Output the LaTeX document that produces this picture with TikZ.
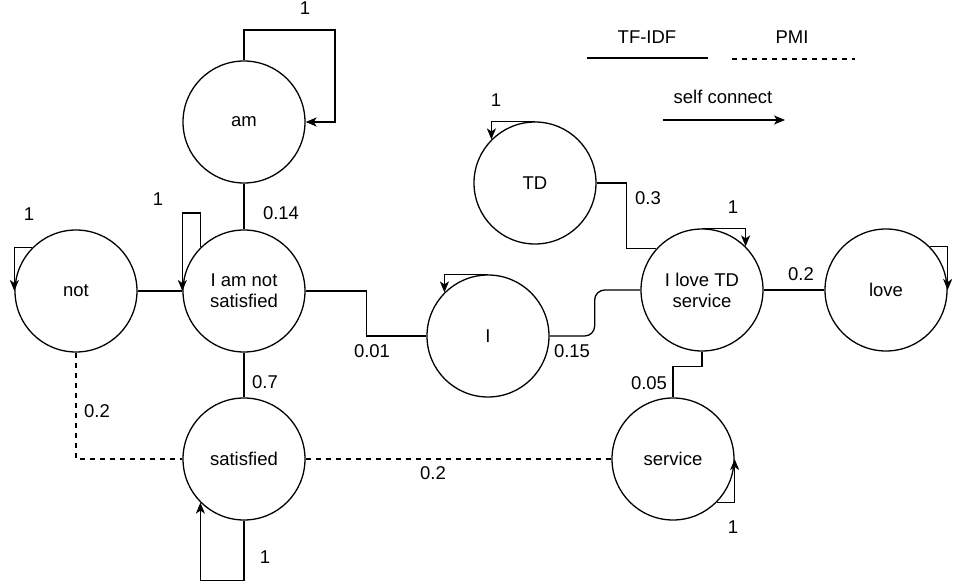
\documentclass[tikz,border=0pt]{standalone}
\usepackage{fontspec}
\setmainfont{Liberation Sans}
\usetikzlibrary{arrows.meta,calc}
\begin{document}
\begin{tikzpicture}[x=1pt,y=-1pt,
  every node/.style={font=\fontsize{18.5}{21}\selectfont},
  word/.style={circle,draw,line width=1.3pt,minimum size=122pt,inner sep=0pt,align=center},
  edge/.style={line width=1.3pt},
  pmi/.style={line width=1.3pt,dash pattern=on 5pt off 5pt},
  loop/.style={line width=1.3pt,-{Stealth[length=11pt,width=9pt,inset=3pt]}},
  lbl/.style={inner sep=1pt}]
\useasboundingbox (0,0) rectangle (969,586);
% nodes
\node[word] (am) at (244,122) {am};
\node[word] (not) at (76,291) {not};
\node[word] (ia) at (244,291) {I am not\\satisfied};
\node[word] (sat) at (244,459) {satisfied};
\node[word] (i) at (488,336) {I};
\node[word] (td) at (535,183) {TD};
\node[word] (il) at (702,290) {I love TD\\service};
\node[word] (love) at (886,290) {love};
\node[word] (sv) at (673,459) {service};
% solid edges
\draw[edge] (am) -- (ia);
\draw[edge] (not) -- (ia);
\draw[edge] (ia.east) -- ++(61,0) |- (i.west);
\draw[edge] (ia) -- (sat);
\draw[edge,rounded corners=10pt] (i.east) -- ++(45,0) |- (il.west);
\draw[edge] (td.east) -- ++(30,0) |- (il.138);
\draw[edge] (il) -- (love);
\draw[edge] (il.south) -- ++(0,15) -| (sv.north);
% dashed edges
\draw[pmi] (not.south) |- (sat.west);
\draw[pmi] (sat) -- (sv);
% self loops
\draw[loop] (am.north) |- (335,30) |- (am.east);
\draw[loop] (not.135) -| (not.west);
\draw[loop] (ia.135) |- ($(ia.west)+(0,-78)$) -- (ia.west);
\draw[loop] (td.north) -| (td.135);
\draw[loop] (i.north) -| (i.135);
\draw[loop] (il.north) -| (il.45);
\draw[loop] (love.45) -| (love.east);
\draw[loop] (sv.-45) -| (sv.east);
\draw[loop] (sat.south) |- ($(sat.-135)+(0,78)$) -- (sat.-135);
% labels
\node[lbl] at (305,8) {1};
\node[lbl] at (281,213) {0.14};
\node[lbl] at (29,214) {1};
\node[lbl] at (158,199) {1};
\node[lbl] at (372,351) {0.01};
\node[lbl] at (265,382) {0.7};
\node[lbl] at (97,411) {0.2};
\node[lbl] at (433,473) {0.2};
\node[lbl] at (265,557) {1};
\node[lbl] at (496,100) {1};
\node[lbl] at (648,198) {0.3};
\node[lbl] at (733,207) {1};
\node[lbl] at (801,274) {0.2};
\node[lbl] at (572,351) {0.15};
\node[lbl] at (649,383) {0.05};
\node[lbl] at (733,527) {1};
\node[lbl] at (974,245) {1};
% legend
\node[lbl] (tf) at (647,37) {TF-IDF};
\node[lbl] (pm) at (792,37) {PMI};
\node[lbl] (sc) at (723,97) {self connect};
\coordinate (tfa) at (587,58);
\coordinate (tfb) at (708,58);
\coordinate (pma) at (732,59);
\coordinate (pmb) at (855,59);
\coordinate (sca) at (663,120);
\coordinate (scb) at (785,120);
\draw[edge] (tfa) -- (tfb);
\draw[pmi] (pma) -- (pmb);
\draw[loop] (sca) -- (scb);
\end{tikzpicture}
\end{document}
